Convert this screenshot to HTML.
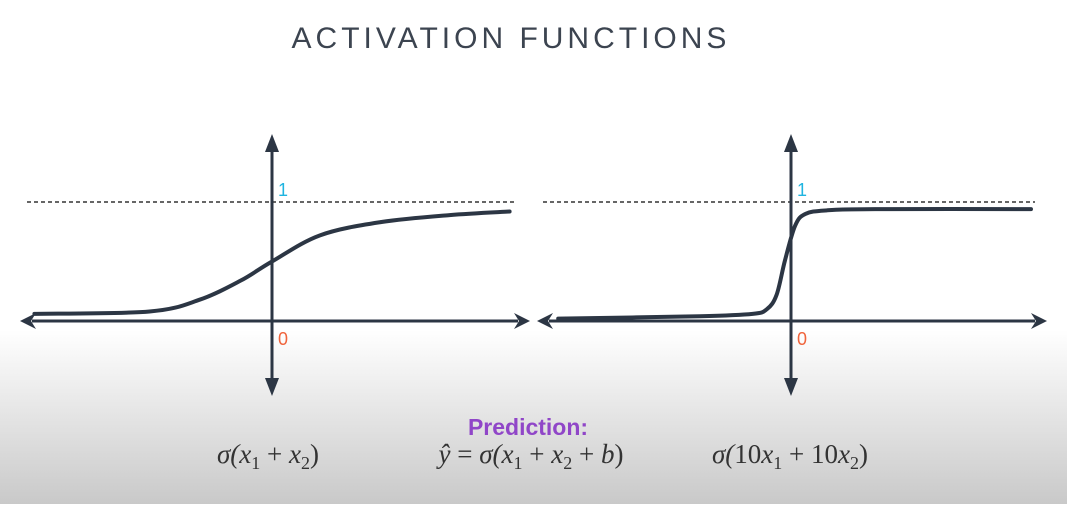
<!DOCTYPE html>
<html><head><meta charset="utf-8"><style>
html,body{margin:0;padding:0}
body{width:1067px;height:504px;overflow:hidden;background:linear-gradient(to bottom,#fff 0,#fff 330px,#c9c9c9 504px);font-family:"Liberation Sans",sans-serif}
</style></head><body>
<svg width="1067" height="504">
<text x="511" y="48" text-anchor="middle" font-size="30" letter-spacing="4" fill="#3c4450">ACTIVATION FUNCTIONS</text>
<g id="charts"></g>
<text x="268" y="463" text-anchor="middle" font-family="Liberation Serif,serif" font-style="italic" font-size="27" fill="#333">σ(x<tspan font-style="normal" font-size="18" dy="6">1</tspan><tspan dy="-6" font-style="normal"> + </tspan>x<tspan font-style="normal" font-size="18" dy="6">2</tspan><tspan dy="-6" font-style="normal">)</tspan></text>
<text x="528" y="435" text-anchor="middle" font-size="23" font-weight="bold" fill="#9046c8">Prediction:</text>
<text x="531" y="463" text-anchor="middle" font-family="Liberation Serif,serif" font-style="italic" font-size="27" fill="#333">ŷ<tspan font-style="normal"> = </tspan>σ(x<tspan font-style="normal" font-size="18" dy="6">1</tspan><tspan dy="-6" font-style="normal"> + </tspan>x<tspan font-style="normal" font-size="18" dy="6">2</tspan><tspan dy="-6" font-style="normal"> + </tspan>b<tspan font-style="normal">)</tspan></text>
<text x="790" y="463" text-anchor="middle" font-family="Liberation Serif,serif" font-style="italic" font-size="27" fill="#333">σ(<tspan font-style="normal">10</tspan>x<tspan font-style="normal" font-size="18" dy="6">1</tspan><tspan dy="-6" font-style="normal"> + 10</tspan>x<tspan font-style="normal" font-size="18" dy="6">2</tspan><tspan dy="-6" font-style="normal">)</tspan></text>
</svg>
<script>
const leftX=[-9.9,-5.1,-3,-1.3,0,2,4.5,7.4,9.9];
const leftY=[0.06,0.08,0.18,0.34,0.5,0.72,0.83,0.89,0.92];
const rightX=[-9.7,-3.8,-1.6,-1.0,-0.6,-0.25,0.17,0.6,1.5,3.5,10];
const rightY=[0.02,0.04,0.06,0.1,0.22,0.51,0.8,0.9,0.93,0.94,0.94];
const charts=[{ax:272,x0:20,x1:530,d0:27,d1:517,xs:leftX,ys:leftY,n:'left'},
{ax:791,x0:537,x1:1047,d0:543,d1:1035,xs:rightX,ys:rightY,n:'right'}];
const NS='http://www.w3.org/2000/svg',g=document.getElementById('charts');
const y0=321,y1=202,unit=24;
function sy(v){return y0-v*(y0-y1);}
function mk(t,a){const e=document.createElementNS(NS,t);for(const k in a)e.setAttribute(k,a[k]);g.appendChild(e);return e;}
const C='#2c3644';
charts.forEach(c=>{
 const sx=v=>c.ax+v*unit;
 let e=mk('line',{x1:c.d0,x2:c.d1,y1:y1,y2:y1,stroke:'#333','stroke-width':1.5,'stroke-dasharray':'4,3'});
 
 
 e=mk('line',{x1:c.x0+12,x2:c.x1-12,y1:y0,y2:y0,stroke:C,'stroke-width':3});
 
 
 mk('polygon',{points:`${c.x0},${y0} ${c.x0+16},${y0-8} ${c.x0+11},${y0} ${c.x0+16},${y0+8}`,fill:C});
 mk('polygon',{points:`${c.x1},${y0} ${c.x1-16},${y0-8} ${c.x1-11},${y0} ${c.x1-16},${y0+8}`,fill:C});
 e=mk('line',{x1:c.ax,x2:c.ax,y1:145,y2:385,stroke:C,'stroke-width':3});
 
 
 mk('polygon',{points:`${c.ax},134 ${c.ax-7},152 ${c.ax+7},152`,fill:C});
 mk('polygon',{points:`${c.ax},396 ${c.ax-7},378 ${c.ax+7},378`,fill:C});
 e=mk('text',{x:c.ax+6,y:196,'font-size':18,fill:'#1fb4e0'});e.textContent='1';
 
 
 e=mk('text',{x:c.ax+6,y:345,'font-size':18,fill:'#f0643c'});e.textContent='0';
 
 
 const P=c.xs.map((x,i)=>[sx(x),sy(c.ys[i])]);
 let d='M'+P[0][0]+','+P[0][1];
 for(let i=0;i<P.length-1;i++){const p0=P[i-1]||P[i],p1=P[i],p2=P[i+1],p3=P[i+2]||p2;
  d+=` C${p1[0]+(p2[0]-p0[0])/6},${p1[1]+(p2[1]-p0[1])/6} ${p2[0]-(p3[0]-p1[0])/6},${p2[1]-(p3[1]-p1[1])/6} ${p2[0]},${p2[1]}`;}
 e=mk('path',{d:d,fill:'none',stroke:C,'stroke-width':4,'stroke-linecap':'round','stroke-linejoin':'round'});
 
 
});
</script>
</body></html>
